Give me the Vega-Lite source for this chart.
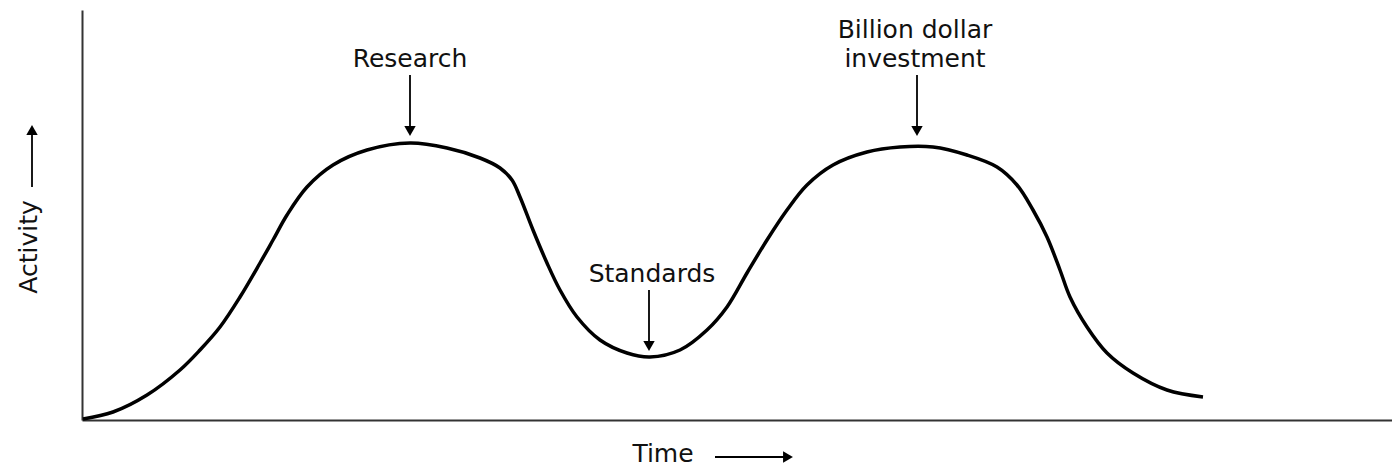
{
  "$schema": "https://vega.github.io/schema/vega-lite/v6.json",
  "width": 1310,
  "height": 410,
  "autosize": {"type": "none"},
  "padding": {"left": 82, "top": 10, "right": 0, "bottom": 49},
  "background": "white",
  "config": {"view": {"stroke": null}},
  "datasets": {
    "curve": [
      {"t": 1, "activity": 1}, {"t": 31, "activity": 8}, {"t": 65, "activity": 25}, {"t": 98, "activity": 50},
      {"t": 118, "activity": 70}, {"t": 138, "activity": 93}, {"t": 158, "activity": 123}, {"t": 178, "activity": 157},
      {"t": 191, "activity": 180}, {"t": 205, "activity": 205}, {"t": 225, "activity": 233}, {"t": 251, "activity": 255},
      {"t": 285, "activity": 270}, {"t": 328, "activity": 277}, {"t": 365, "activity": 272}, {"t": 398, "activity": 262},
      {"t": 418, "activity": 252}, {"t": 430, "activity": 240}, {"t": 438, "activity": 223}, {"t": 451, "activity": 190},
      {"t": 465, "activity": 157}, {"t": 478, "activity": 130}, {"t": 495, "activity": 103}, {"t": 518, "activity": 80},
      {"t": 545, "activity": 67}, {"t": 568, "activity": 63}, {"t": 598, "activity": 70}, {"t": 625, "activity": 90},
      {"t": 645, "activity": 113}, {"t": 665, "activity": 147}, {"t": 685, "activity": 180}, {"t": 705, "activity": 210},
      {"t": 725, "activity": 235}, {"t": 751, "activity": 255}, {"t": 785, "activity": 268}, {"t": 818, "activity": 273},
      {"t": 851, "activity": 273}, {"t": 885, "activity": 265}, {"t": 915, "activity": 253}, {"t": 935, "activity": 235},
      {"t": 951, "activity": 210}, {"t": 965, "activity": 183}, {"t": 978, "activity": 150}, {"t": 988, "activity": 123},
      {"t": 1005, "activity": 93}, {"t": 1025, "activity": 67}, {"t": 1051, "activity": 47}, {"t": 1085, "activity": 30},
      {"t": 1121, "activity": 23}
    ],
    "vrules": [
      {"x": 328, "y": 345, "y2": 288},
      {"x": 567, "y": 130, "y2": 73},
      {"x": 835, "y": 345, "y2": 288},
      {"x": -50, "y": 233, "y2": 290}
    ],
    "hrules": [
      {"x": 633, "x2": 704, "y": -37}
    ],
    "heads": [
      {"x": 328, "y": 289, "dir": "down"},
      {"x": 567, "y": 74, "dir": "down"},
      {"x": 835, "y": 289, "dir": "down"},
      {"x": -50, "y": 290, "dir": "up"},
      {"x": 706, "y": -37, "dir": "right"}
    ],
    "labels": [
      {"x": 328, "y": 353, "label": "Research"},
      {"x": 570, "y": 138, "label": "Standards"},
      {"x": 833, "y": 382, "label": "Billion dollar"},
      {"x": 833, "y": 353, "label": "investment"},
      {"x": 581, "y": -42, "label": "Time"}
    ],
    "ylabel": [
      {"x": -53, "y": 173, "label": "Activity"}
    ]
  },
  "encoding": {
    "x": {"type": "quantitative", "scale": {"domain": [0, 1310], "nice": false, "zero": false},
          "axis": {"domain": true, "domainColor": "#333", "domainWidth": 2, "ticks": false, "labels": false, "grid": false, "title": null}},
    "y": {"type": "quantitative", "scale": {"domain": [0, 410], "nice": false, "zero": false},
          "axis": {"domain": true, "domainColor": "#333", "domainWidth": 2, "ticks": false, "labels": false, "grid": false, "title": null}}
  },
  "layer": [
    {
      "data": {"name": "curve"},
      "mark": {"type": "line", "color": "black", "strokeWidth": 3.5, "interpolate": "catmull-rom"},
      "encoding": {"x": {"field": "t", "type": "quantitative"}, "y": {"field": "activity", "type": "quantitative"}}
    },
    {
      "data": {"name": "vrules"},
      "mark": {"type": "rule", "color": "black", "strokeWidth": 1.8},
      "encoding": {"x": {"field": "x", "type": "quantitative"}, "y": {"field": "y", "type": "quantitative"}, "y2": {"field": "y2"}}
    },
    {
      "data": {"name": "hrules"},
      "mark": {"type": "rule", "color": "black", "strokeWidth": 1.8},
      "encoding": {"x": {"field": "x", "type": "quantitative"}, "x2": {"field": "x2"}, "y": {"field": "y", "type": "quantitative"}}
    },
    {
      "data": {"name": "heads"},
      "mark": {"type": "point", "filled": true, "color": "black", "opacity": 1, "size": 130},
      "encoding": {
        "x": {"field": "x", "type": "quantitative"},
        "y": {"field": "y", "type": "quantitative"},
        "shape": {"field": "dir", "type": "nominal", "legend": null,
                  "scale": {"domain": ["down", "up", "right"], "range": ["triangle-down", "triangle-up", "triangle-right"]}}
      }
    },
    {
      "data": {"name": "labels"},
      "mark": {"type": "text", "font": "DejaVu Sans", "fontSize": 25, "color": "#111", "align": "center", "baseline": "alphabetic"},
      "encoding": {"x": {"field": "x", "type": "quantitative"}, "y": {"field": "y", "type": "quantitative"}, "text": {"field": "label"}}
    },
    {
      "data": {"name": "ylabel"},
      "mark": {"type": "text", "font": "DejaVu Sans", "fontSize": 25, "color": "#111", "align": "center", "baseline": "middle", "angle": 270},
      "encoding": {"x": {"field": "x", "type": "quantitative"}, "y": {"field": "y", "type": "quantitative"}, "text": {"field": "label"}}
    }
  ]
}
